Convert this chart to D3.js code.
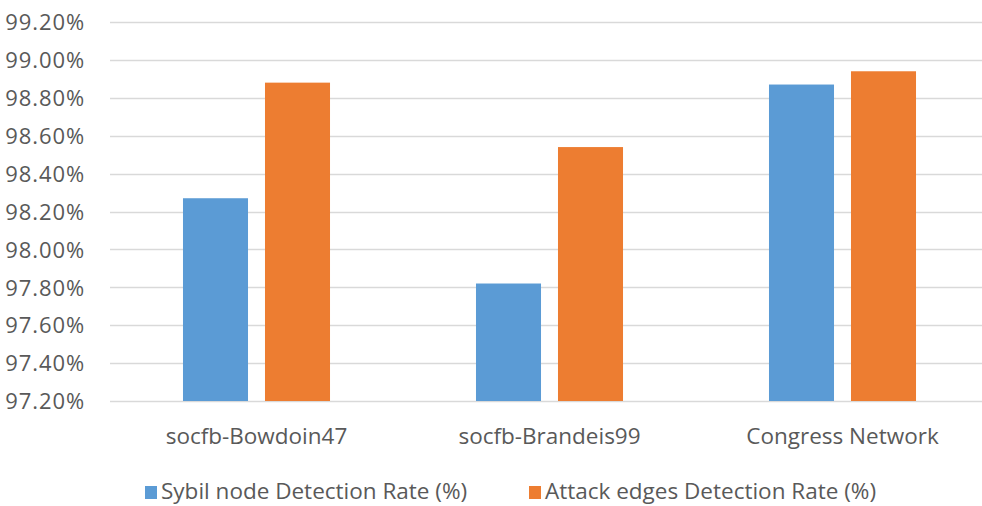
<!DOCTYPE html>
<html><head><meta charset="utf-8">
<script src="https://cdn.jsdelivr.net/npm/d3@7"></script>
<style>
html,body{margin:0;padding:0;background:#fff;}
svg text{font-family:"Open Sans",sans-serif;fill:#595959;}
</style></head>
<body><svg id="c" width="982" height="506"></svg>
<script>
const categories = ["socfb-Bowdoin47", "socfb-Brandeis99", "Congress Network"];
const seriesNames = ["Sybil node Detection Rate (%)", "Attack edges Detection Rate (%)"];
const sybilValues = [98.27, 97.82, 98.87];
const attackValues = [98.88, 98.54, 98.94];
const yTicks = [97.2, 97.4, 97.6, 97.8, 98.0, 98.2, 98.4, 98.6, 98.8, 99.0, 99.2];
const colors = ["#5B9BD5", "#ED7D31"];

const svg = d3.select("#c");
const x = d3.scaleBand().domain(categories).range([110, 989]).paddingInner(0).paddingOuter(0);
const y = d3.scaleLinear().domain([97.2, 99.2]).range([401, 22]);
const sub = d3.scaleBand().domain([0, 1]).range([0, x.bandwidth()]).paddingInner(0.207).paddingOuter(0.89);

// gridlines
svg.append("g").selectAll("line").data(yTicks).join("line")
  .attr("x1", 110).attr("x2", 989)
  .attr("y1", d => Math.round(y(d)) + 0.5).attr("y2", d => Math.round(y(d)) + 0.5)
  .attr("stroke", "#D9D9D9").attr("stroke-width", 1.5);

// y axis labels
const yAxis = d3.axisLeft(y).tickValues(yTicks).tickSize(0).tickPadding(0)
  .tickFormat(d => d.toFixed(2) + "%");
const ga = svg.append("g").attr("transform", "translate(85,0)").call(yAxis);
ga.select(".domain").remove();
ga.selectAll("text").style("font-size", "22px").style("letter-spacing", "0.9px")
  .attr("fill", "#595959").attr("dy", "0.35em")
  .style("font-family", "'Open Sans',sans-serif");

// bars
const series = [sybilValues, attackValues];
series.forEach((vals, si) => {
  svg.append("g").selectAll("rect").data(vals).join("rect")
    .attr("x", (d, i) => x(categories[i]) + sub(si))
    .attr("width", sub.bandwidth())
    .attr("y", d => y(d))
    .attr("height", d => y(97.2) - y(d))
    .attr("fill", colors[si]);
});

// x labels
const xAxis = d3.axisBottom(x).tickSize(0).tickPadding(0);
const gx = svg.append("g").attr("transform", "translate(0,444)").call(xAxis);
gx.select(".domain").remove();
gx.selectAll("text").style("font-size", "22.5px").attr("fill", "#595959").attr("dy", "0")
  .style("font-family", "'Open Sans',sans-serif");

// legend
const legX = [145, 529];
const lg = svg.append("g").selectAll("g").data(seriesNames).join("g")
  .attr("transform", (d, i) => `translate(${legX[i]},499)`);
lg.append("rect").attr("x", 0).attr("y", -13).attr("width", 12).attr("height", 13)
  .attr("fill", (d, i) => colors[i]);
lg.append("text").attr("x", 16).attr("y", 0).style("font-size", "22.5px").text(d => d);
</script></body></html>
